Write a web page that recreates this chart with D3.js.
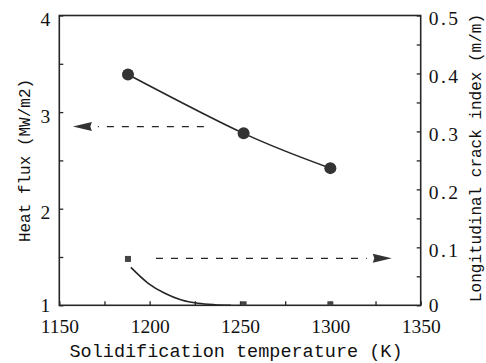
<!DOCTYPE html>
<html>
<head>
<meta charset="utf-8">
<script src="https://cdn.jsdelivr.net/npm/d3@7"></script>
<style>
  html, body { margin: 0; padding: 0; background: #fff; }
  svg { display: block; }
</style>
</head>
<body>
<svg id="chart" width="486" height="363"></svg>
<script>
// ---- data ----
const heatTemps = [1188, 1252, 1300];
const heatFlux = [3.39, 2.78, 2.42];
const crackTemps = [1188, 1252, 1300];
const crackIndex = [0.08, 0, 0];
const crackFitTemps = [1189.6, 1199.2, 1208.4, 1217.6, 1226.8, 1236, 1245];
const crackFitValues = [0.0655, 0.038, 0.0207, 0.0091, 0.0034, 0.001, 0];
const xTicks = [1150, 1200, 1250, 1300, 1350];
const yLeftTicks = [1, 2, 3, 4];
const yRightTicks = [0, 0.1, 0.2, 0.3, 0.4, 0.5];
const xTitle = "Solidification temperature (K)";
const yLeftTitle = "Heat flux (MW/m2)";
const yRightTitle = "Longitudinal crack index (m/m)";
// arrow annotations (data units): [from, to] temperatures and level
const arrowLeftX = [1230, 1157.5];
const arrowLeftY = 2.85;
const arrowRightX = [1203.5, 1334];
const arrowRightY = 0.081;

// ---- layout ----
const L = 59.3, R = 420.7, T = 15.5, B = 305.3;
const ink = "#262626";
const svg = d3.select("#chart");

const x = d3.scaleLinear().domain([1150, 1350]).range([L, R]);
const yL = d3.scaleLinear().domain([1, 4]).range([B, T]);
const yR = d3.scaleLinear().domain([0, 0.5]).range([B, T]);

const serif = "'Liberation Serif', 'Times New Roman', serif";
const mono = "'Liberation Mono', 'Courier New', monospace";

// bottom axis
const xAll = d3.range(1150, 1351, 25);
const gx = svg.append("g").attr("transform", `translate(0,${B})`)
  .call(d3.axisBottom(x).tickValues(xAll).tickSize(-4).tickSizeOuter(0)
    .tickFormat(d => xTicks.includes(d) ? d : ""));
gx.select(".domain").remove();
gx.selectAll("line").attr("stroke", ink).attr("stroke-width", 1.3);
gx.selectAll("text").attr("dy", null).attr("y", 28)
  .attr("font-family", serif).attr("font-size", 19.5).attr("fill", "#111");

// left axis
const yLAll = d3.range(1, 4.01, 0.5);
const gl = svg.append("g").attr("transform", `translate(${L},0)`)
  .call(d3.axisLeft(yL).tickValues(yLAll).tickSize(-4).tickSizeOuter(0)
    .tickFormat(d => yLeftTicks.includes(d) ? d : ""));
gl.select(".domain").remove();
gl.selectAll("line").attr("stroke", ink).attr("stroke-width", 1.3);
gl.selectAll("text").attr("dy", null).attr("y", d => d === 1 ? 6 : 10).attr("x", -9)
  .attr("font-family", serif).attr("font-size", 19.5).attr("fill", "#111");

// right axis
const yRAll = d3.range(0, 11).map(i => i * 0.05);
const gr = svg.append("g").attr("transform", `translate(${R},0)`)
  .call(d3.axisRight(yR).tickValues(yRAll).tickSize(-4).tickSizeOuter(0)
    .tickFormat(d => {
      const m = yRightTicks.find(t => Math.abs(t - d) < 1e-9);
      return m === undefined ? "" : (m === 0 ? "0" : d3.format(".1f")(m));
    }));
gr.select(".domain").remove();
gr.selectAll("line").attr("stroke", ink).attr("stroke-width", 1.3);
gr.selectAll("text").attr("dy", null).attr("y", d => d === 0 ? 6 : 9).attr("x", 8)
  .attr("font-family", serif).attr("font-size", 19.5).attr("fill", "#111")
  .attr("letter-spacing", d => d === 0 ? 0 : 2.5);

// frame
svg.append("rect").attr("x", L).attr("y", T).attr("width", R - L).attr("height", B - T)
  .attr("fill", "none").attr("stroke", ink).attr("stroke-width", 1.6);

// titles
svg.append("text").attr("x", 236).attr("y", 357).attr("text-anchor", "middle")
  .attr("font-family", mono).attr("font-size", 18.5).attr("fill", "#111").text(xTitle);
svg.append("text").attr("transform", "translate(30,160.5) rotate(-90)").attr("text-anchor", "middle")
  .attr("font-family", mono).attr("font-size", 16).attr("fill", "#111").text(yLeftTitle);
svg.append("text").attr("transform", "translate(481,158) rotate(-90)").attr("text-anchor", "middle")
  .attr("font-family", mono).attr("font-size", 16).attr("fill", "#111").text(yRightTitle);

// heat flux line + circles
const heat = heatTemps.map((t, i) => ({ t, v: heatFlux[i] }));
svg.append("path").datum(heat)
  .attr("d", d3.line().x(d => x(d.t)).y(d => yL(d.v)).curve(d3.curveNatural))
  .attr("fill", "none").attr("stroke", ink).attr("stroke-width", 1.6);
svg.selectAll("circle.heat").data(heat).join("circle").attr("class", "heat")
  .attr("cx", d => x(d.t)).attr("cy", d => yL(d.v)).attr("r", 6)
  .attr("fill", "#333");

// crack fit curve + squares
const fit = crackFitTemps.map((t, i) => ({ t, v: crackFitValues[i] }));
svg.append("path").datum(fit)
  .attr("d", d3.line().x(d => x(d.t)).y(d => yR(d.v)).curve(d3.curveMonotoneX))
  .attr("fill", "none").attr("stroke", ink).attr("stroke-width", 1.6);
const crack = crackTemps.map((t, i) => ({ t, v: crackIndex[i] }));
svg.selectAll("rect.crack").data(crack).join("rect").attr("class", "crack")
  .attr("x", d => x(d.t) - 3).attr("y", d => yR(d.v) - (d.v === 0 ? 4 : 3))
  .attr("width", 6).attr("height", d => d.v === 0 ? 4 : 6)
  .attr("fill", "#444");

// arrows
function arrow(xs, yv, yScale) {
  const x0 = x(xs[0]), x1 = x(xs[1]), yy = yScale(yv);
  const dir = Math.sign(x1 - x0);
  const headLen = 19, hw = 4.5;
  const base = x1 - dir * headLen;
  svg.append("line").attr("x1", x0).attr("x2", base - dir * 6).attr("y1", yy).attr("y2", yy)
    .attr("stroke", ink).attr("stroke-width", 1.4).attr("stroke-dasharray", "7,8");
  svg.append("path")
    .attr("d", `M${x1},${yy} L${base},${yy - hw} L${base + dir * 1.5},${yy} L${base},${yy + hw} Z`)
    .attr("fill", "#333");
}
arrow(arrowLeftX, arrowLeftY, yL);
arrow(arrowRightX, arrowRightY, yR);
</script>
</body>
</html>
